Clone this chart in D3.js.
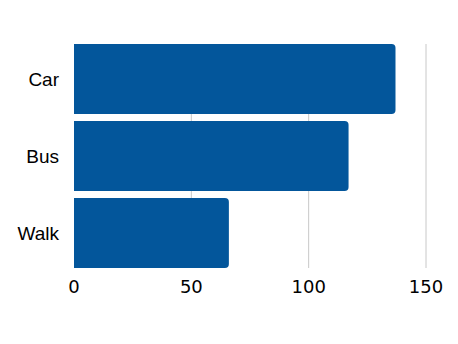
<!DOCTYPE html>
<html>
<head>
<meta charset="utf-8">
<script src="https://cdn.jsdelivr.net/npm/d3@7"></script>
<style>
  body { margin: 0; background: #fff; }
</style>
</head>
<body>
<svg id="chart" width="458" height="344"></svg>
<script>
const categories = ["Car", "Bus", "Walk"];
const values = [137, 117, 66];
const ticks = [0, 50, 100, 150];

const svg = d3.select("svg#chart");
const margin = { top: 44, right: 32, bottom: 76, left: 74 };
const width = +svg.attr("width");
const height = +svg.attr("height");
const plotW = width - margin.left - margin.right;
const plotH = height - margin.top - margin.bottom;

const x = d3.scaleLinear().domain([0, 150]).range([0, 352]);
const y = d3.scaleBand().domain(categories).range([0, plotH]).paddingInner(0.09).paddingOuter(0);

const g = svg.append("g").attr("transform", `translate(${margin.left},${margin.top})`);

// gridlines (no line at zero)
g.selectAll("line.grid")
  .data(ticks.filter(d => d > 0))
  .join("line")
  .attr("class", "grid")
  .attr("x1", d => x(d))
  .attr("x2", d => x(d))
  .attr("y1", 0)
  .attr("y2", plotH)
  .attr("stroke", "#c8c8c8")
  .attr("stroke-width", 1);

// bars with rounded right corners
const r = 4;
function barPath(d, i) {
  const w = x(values[i]);
  const y0 = y(d);
  const h = y.bandwidth();
  return `M0,${y0}H${w - r}Q${w},${y0} ${w},${y0 + r}V${y0 + h - r}Q${w},${y0 + h} ${w - r},${y0 + h}H0Z`;
}
g.selectAll("path.bar")
  .data(categories)
  .join("path")
  .attr("class", "bar")
  .attr("d", barPath)
  .attr("fill", "#03569b");

// category labels
g.selectAll("text.cat")
  .data(categories)
  .join("text")
  .attr("class", "cat")
  .attr("x", -15)
  .attr("y", d => y(d) + y.bandwidth() / 2)
  .attr("dy", "0.35em")
  .attr("text-anchor", "end")
  .style("font-family", "Liberation Sans, Arial, sans-serif")
  .style("font-size", "19px")
  .attr("fill", "#000")
  .text(d => d);

// x tick labels
g.selectAll("text.tick")
  .data(ticks)
  .join("text")
  .attr("class", "tick")
  .attr("x", d => x(d))
  .attr("y", plotH + 25)
  .attr("text-anchor", "middle")
  .style("font-family", "DejaVu Sans, sans-serif")
  .style("font-size", "18px")
  .attr("fill", "#000")
  .text(d => d);
</script>
</body>
</html>
